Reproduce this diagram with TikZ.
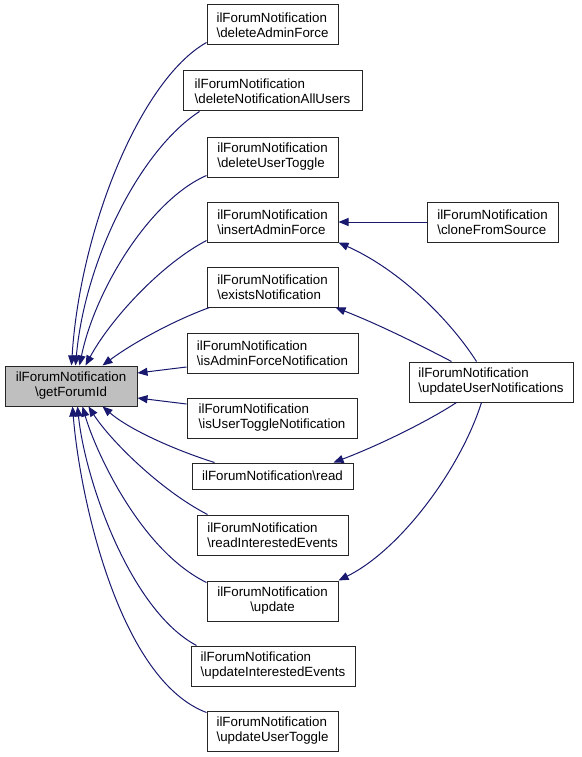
\documentclass[tikz,border=0pt]{standalone}
\usepackage{fontspec}
\setmainfont{Liberation Sans}
\usetikzlibrary{arrows.meta,calc}
\definecolor{edgeblue}{HTML}{191970}
\definecolor{nodegrey}{HTML}{BFBFBF}
\begin{document}
\begin{tikzpicture}[x=1pt,y=-1pt,
  box/.style={draw=black!85,line width=1pt,fill=white,rectangle,inner sep=0pt,align=left,
    font=\fontsize{13.33}{15}\selectfont,minimum height=40pt},
  edge/.style={draw=edgeblue,line width=1pt,-{Triangle[length=10pt,width=8pt]}}]
\useasboundingbox (0,0) rectangle (581,757);
\fill[white] (0,0) rectangle (581,757);

\node[box,fill=nodegrey,minimum width=132pt,align=center] (g) at (71,386) {ilForumNotification\\\textbackslash getForumId};
\node[box,minimum width=131pt] (dAF) at (272.5,25) {ilForumNotification\\\textbackslash deleteAdminForce};
\node[box,minimum width=179pt] (dNAU) at (272.5,91) {ilForumNotification\\\textbackslash deleteNotificationAllUsers};
\node[box,minimum width=131pt] (dUT) at (272.5,157) {ilForumNotification\\\textbackslash deleteUserToggle};
\node[box,minimum width=131pt] (iAF) at (272.5,222) {ilForumNotification\\\textbackslash insertAdminForce};
\node[box,minimum width=131pt] (eN) at (272.5,287) {ilForumNotification\\\textbackslash existsNotification};
\node[box,minimum width=171pt] (iAFN) at (272.5,353) {ilForumNotification\\\textbackslash isAdminForceNotification};
\node[box,minimum width=170pt] (iUTN) at (272,418) {ilForumNotification\\\textbackslash isUserToggleNotification};
\node[box,minimum width=161pt,minimum height=26pt] (rd) at (272.5,476) {ilForumNotification\textbackslash read};
\node[box,minimum width=151pt] (rIE) at (272.5,535) {ilForumNotification\\\textbackslash readInterestedEvents};
\node[box,minimum width=131pt,align=center] (upd) at (272.5,601) {ilForumNotification\\\textbackslash update};
\node[box,minimum width=164pt] (uIE) at (273,666) {ilForumNotification\\\textbackslash updateInterestedEvents};
\node[box,minimum width=131pt] (uUT) at (272.5,731) {ilForumNotification\\\textbackslash updateUserToggle};
\node[box,minimum width=131pt] (cFS) at (492.5,222) {ilForumNotification\\\textbackslash cloneFromSource};
\node[box,minimum width=164pt] (uUN) at (491,382) {ilForumNotification\\\textbackslash updateUserNotifications};

% edges into getForumId (top)
\draw[edge] ($(dAF.south west)+(0,-3)$) .. controls (140,80) and (80,230) .. ($(g.north west)+(67,0)$);
\draw[edge] ($(dNAU.south west)+(17,0)$) .. controls (140,150) and (85,260) .. ($(g.north west)+(71,0)$);
\draw[edge] ($(dUT.south west)+(0,-2)$) .. controls (150,200) and (95,290) .. ($(g.north west)+(75,0)$);
\draw[edge] ($(iAF.south west)+(0,-2)$) .. controls (160,265) and (110,320) .. ($(g.north west)+(81,0)$);
\draw[edge] ($(eN.south west)+(3,0)$) .. controls (170,322) and (130,345) .. ($(g.north west)+(98,0)$);
% side
\draw[edge] ($(iAFN.west)+(0,14)$) -- ($(g.east)+(0,-13)$);
\draw[edge] ($(iUTN.west)+(0,-14)$) -- ($(g.east)+(0,12)$);
% bottom
\draw[edge] ($(rd.north west)+(23,0)$) .. controls (175,450) and (130,430) .. ($(g.south west)+(98,0)$);
\draw[edge] ($(rIE.north west)+(11,0)$) .. controls (160,490) and (110,440) .. ($(g.south west)+(84,0)$);
\draw[edge] ($(upd.north west)+(0,2)$) .. controls (140,550) and (95,450) .. ($(g.south west)+(78,0)$);
\draw[edge] ($(uIE.north west)+(6,0)$) .. controls (130,610) and (85,480) .. ($(g.south west)+(73,0)$);
\draw[edge] ($(uUT.north west)+(0,2)$) .. controls (120,680) and (80,500) .. ($(g.south west)+(68,0)$);

% right side
\draw[edge] (cFS.west) -- (iAF.east);
\draw[edge] ($(uUN.north west)+(68,0)$) .. controls (450,320) and (400,270) .. (iAF.south east);
\draw[edge] ($(uUN.north west)+(43,0)$) .. controls (420,345) and (380,325) .. ($(eN.south east)+(-3,0)$);
\draw[edge] ($(uUN.south west)+(48,0)$) .. controls (430,420) and (380,445) .. ($(rd.north east)+(-20,0)$);
\draw[edge] ($(uUN.south west)+(73,0)$) .. controls (460,470) and (400,550) .. (upd.north east);
\end{tikzpicture}
\end{document}
